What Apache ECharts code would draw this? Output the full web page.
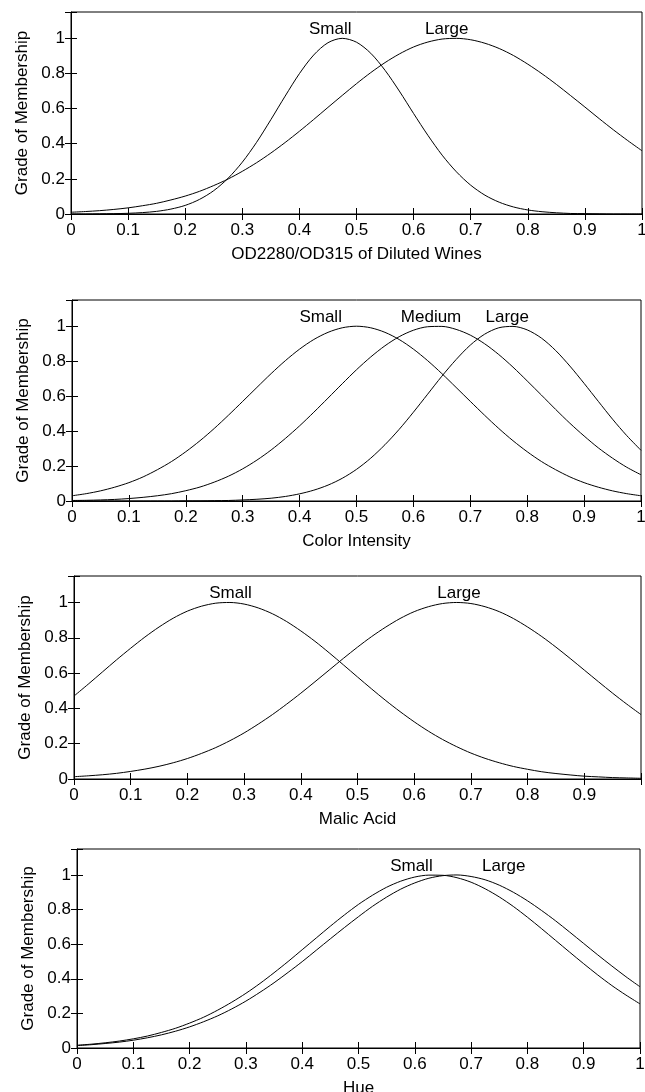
<!DOCTYPE html>
<html lang="en">
<head>
    <meta charset="UTF-8">
    <title>Grade of Membership</title>
    <style type="text/css">
        *{
            margin: 0;
            padding: 0;
        }
        #main{
            width: 645px;
            height: 1092px;
        }
    </style>
</head>
<body>
    <div id="main"></div>
    <script src="https://cdn.jsdelivr.net/npm/echarts/dist/echarts.min.js"></script>
    <script type="text/javascript">
        // x samples shared by every curve (step 0.025)
        var xs = [0, 0.025, 0.05, 0.075, 0.1, 0.125, 0.15, 0.175, 0.2, 0.225,
                  0.25, 0.275, 0.3, 0.325, 0.35, 0.375, 0.4, 0.425, 0.45, 0.475,
                  0.5, 0.525, 0.55, 0.575, 0.6, 0.625, 0.65, 0.675, 0.7, 0.725,
                  0.75, 0.775, 0.8, 0.825, 0.85, 0.875, 0.9, 0.925, 0.95, 0.975, 1];

        // OD2280/OD315 of Diluted Wines
        var odSmall = [0.000, 0.000, 0.001, 0.002, 0.004, 0.008, 0.015, 0.028, 0.049, 0.083,
                       0.133, 0.203, 0.295, 0.408, 0.537, 0.671, 0.799, 0.905, 0.975, 1.000,
                       0.978, 0.915, 0.818, 0.700, 0.572, 0.448, 0.335, 0.240, 0.164, 0.107,
                       0.067, 0.040, 0.023, 0.013, 0.007, 0.003, 0.002, 0.001, 0.000, 0.000, 0.000];
        var odLarge = [0.010, 0.014, 0.019, 0.026, 0.035, 0.047, 0.061, 0.080, 0.102, 0.129,
                       0.162, 0.199, 0.243, 0.292, 0.347, 0.407, 0.471, 0.538, 0.607, 0.675,
                       0.742, 0.805, 0.862, 0.911, 0.951, 0.979, 0.996, 1.000, 0.992, 0.972,
                       0.942, 0.902, 0.853, 0.798, 0.738, 0.674, 0.609, 0.543, 0.479, 0.418, 0.360];

        // Color Intensity
        var colSmall = [0.030, 0.042, 0.058, 0.079, 0.105, 0.138, 0.179, 0.226, 0.282, 0.345,
                        0.415, 0.491, 0.570, 0.650, 0.729, 0.803, 0.869, 0.924, 0.965, 0.991,
                        1.000, 0.991, 0.965, 0.924, 0.869, 0.803, 0.729, 0.650, 0.570, 0.491,
                        0.415, 0.345, 0.282, 0.226, 0.179, 0.138, 0.105, 0.079, 0.058, 0.042, 0.030];
        var colMedium = [0.003, 0.004, 0.006, 0.009, 0.014, 0.021, 0.030, 0.042, 0.059, 0.080,
                         0.108, 0.142, 0.184, 0.234, 0.292, 0.358, 0.430, 0.508, 0.589, 0.671,
                         0.751, 0.824, 0.888, 0.940, 0.977, 0.997, 0.999, 0.982, 0.949, 0.900,
                         0.838, 0.766, 0.687, 0.606, 0.524, 0.445, 0.372, 0.304, 0.245, 0.193, 0.150];
        var colLarge = [0.000, 0.000, 0.000, 0.000, 0.000, 0.000, 0.000, 0.000, 0.001, 0.001,
                        0.002, 0.003, 0.006, 0.010, 0.016, 0.026, 0.041, 0.062, 0.091, 0.130,
                        0.181, 0.245, 0.322, 0.410, 0.508, 0.611, 0.714, 0.809, 0.892, 0.954,
                        0.991, 0.999, 0.979, 0.932, 0.861, 0.772, 0.673, 0.570, 0.468, 0.374, 0.290];

        // Malic Acid
        var malicSmall = [0.470, 0.537, 0.606, 0.675, 0.741, 0.804, 0.861, 0.911, 0.951, 0.979,
                          0.996, 1.000, 0.991, 0.969, 0.936, 0.892, 0.839, 0.780, 0.715, 0.647,
                          0.578, 0.510, 0.444, 0.382, 0.324, 0.271, 0.224, 0.183, 0.147, 0.117,
                          0.092, 0.071, 0.055, 0.041, 0.031, 0.023, 0.016, 0.012, 0.008, 0.006, 0.004];
        var malicLarge = [0.013, 0.018, 0.024, 0.032, 0.043, 0.056, 0.072, 0.092, 0.116, 0.145,
                          0.178, 0.217, 0.261, 0.311, 0.365, 0.424, 0.486, 0.551, 0.617, 0.683,
                          0.747, 0.807, 0.861, 0.909, 0.948, 0.976, 0.994, 1.000, 0.994, 0.976,
                          0.948, 0.909, 0.861, 0.807, 0.747, 0.683, 0.617, 0.551, 0.486, 0.424, 0.365];

        // Hue
        var hueSmall = [0.016, 0.022, 0.030, 0.040, 0.053, 0.069, 0.090, 0.114, 0.144, 0.178,
                        0.219, 0.265, 0.316, 0.373, 0.435, 0.500, 0.568, 0.636, 0.704, 0.769,
                        0.830, 0.883, 0.929, 0.964, 0.988, 0.999, 0.998, 0.984, 0.958, 0.920,
                        0.873, 0.818, 0.756, 0.690, 0.622, 0.554, 0.487, 0.422, 0.361, 0.306, 0.255];
        var hueLarge = [0.014, 0.019, 0.026, 0.034, 0.045, 0.059, 0.076, 0.097, 0.122, 0.152,
                        0.186, 0.226, 0.271, 0.322, 0.377, 0.437, 0.499, 0.565, 0.631, 0.696,
                        0.759, 0.819, 0.872, 0.918, 0.954, 0.981, 0.996, 1.000, 0.991, 0.972,
                        0.941, 0.900, 0.851, 0.795, 0.735, 0.670, 0.604, 0.538, 0.474, 0.412, 0.354];

        // where each curve's name sits along x
        var odLabelX = [0.454, 0.658];
        var colLabelX = [0.437, 0.631, 0.765];
        var malicLabelX = [0.276, 0.679];
        var hueLabelX = [0.594, 0.758];

        var xNames = ['OD2280/OD315 of Diluted Wines', 'Color Intensity', 'Malic Acid', 'Hue'];
        var yName = 'Grade of Membership';

        var panels = [
            {names: ['Small', 'Large'], curves: [odSmall, odLarge], labelX: odLabelX,
             left: 71, right: 3, top: 12, height: 202},
            {names: ['Small', 'Medium', 'Large'], curves: [colSmall, colMedium, colLarge], labelX: colLabelX,
             left: 72, right: 4, top: 300, height: 201},
            {names: ['Small', 'Large'], curves: [malicSmall, malicLarge], labelX: malicLabelX,
             left: 74, right: 4, top: 576, height: 203, hideLastX: true},
            {names: ['Small', 'Large'], curves: [hueSmall, hueLarge], labelX: hueLabelX,
             left: 77, right: 5, top: 849, height: 199}
        ];

        var font = '"Liberation Sans", Arial, Helvetica, sans-serif';
        var black = '#000';
        var fs = 17;

        var grids = [], xAxes = [], yAxes = [], series = [];

        panels.forEach(function (p, i) {
            grids.push({
                left: p.left, right: p.right, top: p.top, height: p.height,
                show: true, borderColor: black, borderWidth: 1,
                backgroundColor: 'transparent',
                containLabel: false, outerBoundsMode: 'none'
            });
            var tick = {inside: true, length: 6, lineStyle: {color: black, width: 1}};
            xAxes.push({
                type: 'value', gridIndex: i, position: 'bottom',
                min: 0, max: 1, interval: 0.1,
                axisLine: {show: true, onZero: false, lineStyle: {color: black, width: 1}},
                axisTick: tick,
                axisLabel: {
                    color: black, fontSize: fs, fontFamily: font, margin: 8,
                    formatter: function (v) {
                        if (p.hideLastX && v >= 1) return '';
                        return String(v);
                    }
                },
                splitLine: {show: false},
                name: xNames[i], nameLocation: 'middle', nameGap: 32,
                nameTextStyle: {color: black, fontSize: fs, fontFamily: font}
            });
            xAxes.push({
                type: 'value', gridIndex: i, position: 'top',
                min: 0, max: 1, interval: 0.1,
                axisLine: {show: false},
                axisTick: tick,
                axisLabel: {show: false},
                splitLine: {show: false}
            });
            yAxes.push({
                type: 'value', gridIndex: i, position: 'left',
                min: 0, max: 1.15, interval: 0.2,
                axisLine: {show: true, onZero: false, lineStyle: {color: black, width: 1}},
                axisTick: tick,
                axisLabel: {
                    color: black, fontSize: fs, fontFamily: font, margin: 6,
                    formatter: function (v) { return v > 1.001 ? '' : String(v); }
                },
                splitLine: {show: false},
                name: yName, nameLocation: 'middle', nameGap: 40, nameRotate: 90,
                nameTextStyle: {color: black, fontSize: fs, fontFamily: font}
            });
            yAxes.push({
                type: 'value', gridIndex: i, position: 'right',
                min: 0, max: 1.15, interval: 0.2,
                axisLine: {show: false},
                axisTick: tick,
                axisLabel: {show: false},
                splitLine: {show: false}
            });

            p.curves.forEach(function (vals, k) {
                series.push({
                    name: p.names[k],
                    type: 'line',
                    xAxisIndex: 2 * i,
                    yAxisIndex: 2 * i,
                    data: xs.map(function (x, j) { return [x, vals[j]]; }),
                    showSymbol: false,
                    symbol: 'none',
                    smooth: 0.3,
                    lineStyle: {color: black, width: 1},
                    markPoint: {
                        silent: true,
                        symbol: 'circle',
                        symbolSize: 1,
                        itemStyle: {color: 'rgba(0,0,0,0)'},
                        label: {
                            show: true, position: 'top', distance: 0,
                            color: black, fontSize: fs, fontFamily: font,
                            formatter: p.names[k]
                        },
                        data: [{coord: [p.labelX[k], 1]}]
                    }
                });
            });
        });

        var myChart = echarts.init(document.getElementById('main'));
        myChart.setOption({
            animation: false,
            backgroundColor: '#fff',
            grid: grids,
            xAxis: xAxes,
            yAxis: yAxes,
            series: series
        });
    </script>
</body>
</html>
